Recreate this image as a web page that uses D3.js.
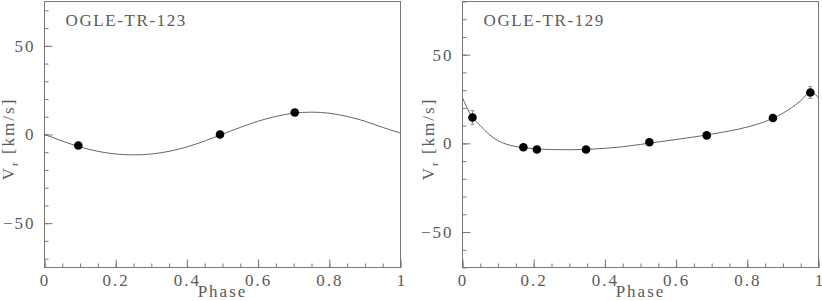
<!DOCTYPE html>
<html>
<head>
<meta charset="utf-8">
<script src="https://cdn.jsdelivr.net/npm/d3@7"></script>
<style>
  body { margin: 0; background: #fff; }
  svg text { font-family: "Liberation Serif", "DejaVu Serif", serif; fill: #5a5a5a; letter-spacing: 2px; }
</style>
</head>
<body>
<svg id="chart" width="822" height="301"></svg>
<script>
'use strict';

// axis ticks
const xTicks = [0, 0.2, 0.4, 0.6, 0.8, 1];
const xTickLabels = ['0', '0.2', '0.4', '0.6', '0.8', '1'];
const xMinor = d3.range(0, 1.0001, 0.05);
const yTicks = [-50, 0, 50];
const yTickLabels = ['\u221250', '0', '50'];
const yMinor = d3.range(-70, 80.001, 10);

// OGLE-TR-123
const phase123 = [0.095, 0.493, 0.703];
const vr123 = [-6.2, 0.0, 12.4];
const err123 = [1.5, 1.5, 1.5];
const curvePhase123 = [0, 0.05, 0.1, 0.15, 0.2, 0.25, 0.3, 0.35, 0.4, 0.45, 0.5,
                       0.55, 0.6, 0.65, 0.7, 0.75, 0.8, 0.85, 0.9, 0.95, 1];
const curve123 = [0, -3.7, -7.0, -9.5, -11.0, -11.5, -11.0, -9.5, -7.0, -3.7, 0.2,
                  4.0, 7.5, 10.2, 12.0, 12.6, 12.0, 10.2, 7.5, 4.0, 0.8];

// OGLE-TR-129
const phase129 = [0.028, 0.171, 0.209, 0.347, 0.525, 0.686, 0.872, 0.977];
const vr129 = [14.6, -2.2, -3.5, -3.5, 0.6, 4.5, 14.3, 28.7];
const err129 = [3.8, 1.5, 1.5, 1.5, 1.5, 1.5, 1.5, 3.3];
const curvePhase129 = [0, 0.025, 0.05, 0.075, 0.1, 0.125, 0.15, 0.2, 0.25, 0.3, 0.35, 0.4,
                       0.45, 0.5, 0.55, 0.6, 0.65, 0.7, 0.75, 0.8, 0.85, 0.9, 0.95, 0.975, 0.985, 1];
const curve129 = [25.6, 15.5, 10.0, 5.0, 1.5, -0.6, -1.8, -3.0, -3.5, -3.6, -3.4, -2.8,
                  -1.9, -0.6, 0.8, 2.2, 3.6, 5.2, 7.0, 9.2, 12.3, 17.0, 24.0, 28.4, 28.3, 25.6];

const frameColour = '#777';
const curveColour = '#666';

const svg = d3.select('#chart');

function drawPanel (opt) {
    const x = d3.scaleLinear().domain([0, 1]).range([opt.left, opt.right]);
    const y = d3.scaleLinear().domain(opt.yDomain).range([opt.bottom, opt.top]);
    const g = svg.append('g');

    // minor ticks
    g.append('g')
        .attr('transform', `translate(0,${opt.bottom})`)
        .call(d3.axisBottom(x).tickValues(xMinor).tickSize(-4).tickFormat(''))
        .call(a => a.select('.domain').remove());
    g.append('g')
        .attr('transform', `translate(${opt.left},0)`)
        .call(d3.axisLeft(y).tickValues(yMinor.filter(v => v >= opt.yDomain[0] && v <= opt.yDomain[1]))
            .tickSize(-4).tickFormat(''))
        .call(a => a.select('.domain').remove());

    // major ticks with labels
    g.append('g')
        .attr('transform', `translate(0,${opt.bottom})`)
        .call(d3.axisBottom(x).tickValues(xTicks).tickSize(-8).tickPadding(6)
            .tickFormat((d, i) => xTickLabels[i]))
        .call(a => a.select('.domain').remove())
        .call(a => a.selectAll('.tick text').style('letter-spacing', d => d === 1 ? '0px' : '2px'));
    g.append('g')
        .attr('transform', `translate(${opt.left},0)`)
        .call(d3.axisLeft(y).tickValues(yTicks).tickSize(-8).tickPadding(9)
            .tickFormat((d, i) => yTickLabels[i]))
        .call(a => a.select('.domain').remove());

    g.selectAll('.tick line').attr('stroke', frameColour);
    g.selectAll('.tick text')
        .attr('fill', '#5a5a5a')
        .style('font-size', '17px')
        .style('font-family', '"Liberation Serif", serif');

    // frame
    g.append('rect')
        .attr('x', opt.left).attr('y', opt.top)
        .attr('width', opt.right - opt.left).attr('height', opt.bottom - opt.top)
        .attr('fill', 'none').attr('stroke', frameColour).attr('stroke-width', 1);

    // model curve
    const line = d3.line()
        .x((d, i) => x(opt.curvePhase[i]))
        .y(d => y(d))
        .curve(d3.curveMonotoneX);
    g.append('path')
        .attr('d', line(opt.curve))
        .attr('fill', 'none')
        .attr('stroke', curveColour)
        .attr('stroke-width', 1);

    // error bars
    const eb = g.selectAll('.err').data(opt.vr).enter().append('g').attr('class', 'err');
    eb.append('line')
        .attr('x1', (d, i) => x(opt.phase[i])).attr('x2', (d, i) => x(opt.phase[i]))
        .attr('y1', (d, i) => y(d - opt.err[i])).attr('y2', (d, i) => y(d + opt.err[i]));
    eb.append('line')
        .attr('x1', (d, i) => x(opt.phase[i]) - 2).attr('x2', (d, i) => x(opt.phase[i]) + 2)
        .attr('y1', (d, i) => y(d - opt.err[i])).attr('y2', (d, i) => y(d - opt.err[i]));
    eb.append('line')
        .attr('x1', (d, i) => x(opt.phase[i]) - 2).attr('x2', (d, i) => x(opt.phase[i]) + 2)
        .attr('y1', (d, i) => y(d + opt.err[i])).attr('y2', (d, i) => y(d + opt.err[i]));
    eb.selectAll('line').attr('stroke', '#888').attr('stroke-width', 1);

    // points
    g.selectAll('.pt').data(opt.vr).enter().append('circle')
        .attr('class', 'pt')
        .attr('cx', (d, i) => x(opt.phase[i]))
        .attr('cy', d => y(d))
        .attr('r', 4.3)
        .attr('fill', '#000');

    // star name
    g.append('text')
        .attr('x', opt.left + 21).attr('y', 26)
        .style('font-size', '17px')
        .style('letter-spacing', '1.6px')
        .text(opt.name);

    // axis titles
    g.append('text')
        .attr('x', (opt.left + opt.right) / 2).attr('y', 296.5)
        .attr('text-anchor', 'middle')
        .style('font-size', '17px')
        .text('Phase');

    const yl = g.append('text')
        .attr('transform', `translate(${opt.labelX},139) rotate(-90)`)
        .attr('text-anchor', 'middle')
        .style('font-size', '17px');
    yl.append('tspan').text('V');
    yl.append('tspan').attr('dy', 4).style('font-size', '11px').text('r');
    yl.append('tspan').attr('dy', -4).text(' [km/s]');
}

drawPanel({
    name: 'OGLE-TR-123',
    left: 44.5, right: 400.5, top: 1.5, bottom: 267.5,
    yDomain: [-75, 75],
    labelX: 14,
    phase: phase123, vr: vr123, err: err123,
    curvePhase: curvePhase123, curve: curve123
});

drawPanel({
    name: 'OGLE-TR-129',
    left: 462.5, right: 818.5, top: 1.5, bottom: 267.5,
    yDomain: [-70, 80],
    labelX: 434,
    phase: phase129, vr: vr129, err: err129,
    curvePhase: curvePhase129, curve: curve129
});
</script>
</body>
</html>
